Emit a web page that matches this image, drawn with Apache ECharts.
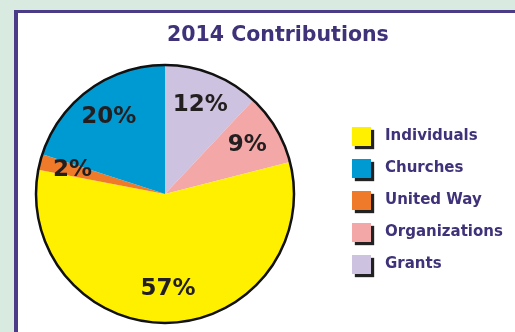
<!DOCTYPE html>
<html>
<head>
<meta charset="utf-8">
<script src="https://cdn.jsdelivr.net/npm/echarts@6/dist/echarts.min.js"></script>
<style>
  html, body { margin: 0; padding: 0; }
  body { width: 515px; height: 332px; background: #d9ebe0; position: relative; overflow: hidden; }
  #panel { position: absolute; left: 14px; top: 10px; right: 0; bottom: 0; background: #fff;
           border-left: 4px solid #4b3c87; border-top: 3px solid #4b3c87; }
  #main { position: absolute; left: 0; top: 0; width: 515px; height: 332px; }
</style>
</head>
<body>
<div id="panel"></div>
<div id="main"></div>
<script>
// 数据
var legendNames = ['Individuals', 'Churches', 'United Way', 'Organizations', 'Grants'];
// clockwise from 12 o'clock
var sliceNames = ['Grants', 'Organizations', 'Individuals', 'United Way', 'Churches'];
var sliceValues = [12, 9, 57, 2, 20];
var sliceColors = ['#cdc2df', '#f4a7a7', '#fff000', '#ef7b2a', '#009ad3'];

var center = [165, 194];
var R = 129;

var myChart = echarts.init(document.getElementById('main'));

var pieData = sliceNames.map(function (n, i) {
    return { name: n, value: sliceValues[i], itemStyle: { color: sliceColors[i] } };
});

var option = {
    backgroundColor: 'transparent',
    animation: false,
    title: {
        text: '2014 Contributions',
        left: 162,
        top: 20,
        textStyle: {
            color: '#3f3279',
            fontFamily: 'DejaVu Sans',
            fontWeight: 'bold',
            fontSize: 20.5
        }
    },
    legend: {
        data: legendNames,
        orient: 'vertical',
        left: 347,
        top: 122,
        icon: 'rect',
        itemWidth: 19,
        itemHeight: 19,
        itemGap: 13,
        selectedMode: false,
        itemStyle: {
            borderWidth: 0,
            shadowColor: '#222',
            shadowBlur: 1,
            shadowOffsetX: 3,
            shadowOffsetY: 3
        },
        textStyle: {
            color: '#3f3279',
            fontFamily: 'DejaVu Sans',
            fontWeight: 'bold',
            fontSize: 15,
            padding: [0, 0, 0, 9]
        }
    },
    series: [
        {
            // 饼图主体
            type: 'pie',
            center: center,
            radius: R,
            startAngle: 90,
            clockwise: true,
            silent: true,
            label: { show: false },
            labelLine: { show: false },
            itemStyle: { borderWidth: 0 },
            data: pieData,
            z: 1
        },
        {
            // 百分比标签
            type: 'pie',
            center: center,
            radius: [56, R],
            startAngle: 90,
            clockwise: true,
            silent: true,
            itemStyle: { color: 'transparent', borderWidth: 0 },
            label: {
                show: true,
                position: 'inside',
                formatter: '{d}%',
                color: '#231f20',
                fontFamily: 'DejaVu Sans',
                fontWeight: 'bold',
                fontSize: 23
            },
            labelLine: { show: false },
            data: sliceNames.map(function (n, i) { return { name: n, value: sliceValues[i] }; }),
            z: 3
        },
        {
            // 外圈黑边
            type: 'pie',
            center: center,
            radius: R,
            silent: true,
            label: { show: false },
            labelLine: { show: false },
            itemStyle: { color: 'transparent', borderColor: '#111', borderWidth: 2.5 },
            data: [{ name: 'outline', value: 1 }],
            z: 4
        }
    ]
};

myChart.setOption(option);
</script>
</body>
</html>
